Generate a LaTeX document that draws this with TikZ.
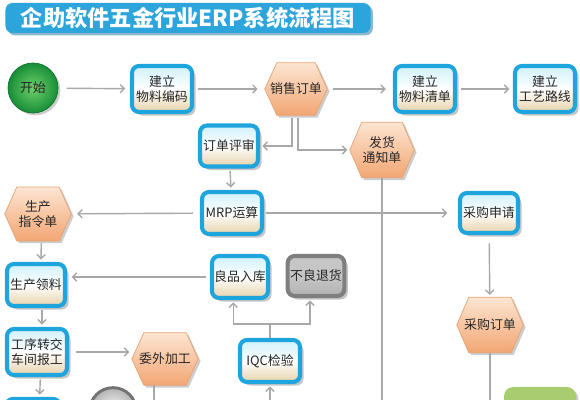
\documentclass[tikz,border=0pt]{standalone}
\usepackage{fontspec}
\newfontfamily\cjk{Noto Sans CJK SC}
\usetikzlibrary{shadows,arrows.meta,backgrounds}

\definecolor{boxblue}{HTML}{1EA5DD}
\definecolor{titleblue}{HTML}{2CA4DC}
\definecolor{titleshade}{HTML}{1C6F9A}
\definecolor{cyantop}{HTML}{CFF1FA}
\definecolor{beigebot}{HTML}{E6D2AA}
\definecolor{hextop}{HTML}{FCE5D2}
\definecolor{hexbot}{HTML}{F2A673}
\definecolor{hexline}{HTML}{E9A272}
\definecolor{linegray}{HTML}{A8A8A8}
\definecolor{badgray}{HTML}{7F7F7F}
\definecolor{badfill}{HTML}{C6C6C6}
\definecolor{startdark}{HTML}{178E38}
\definecolor{startlight}{HTML}{6FD06A}
\definecolor{endgreen}{HTML}{A9CD6E}

\begin{document}
\begin{tikzpicture}[x=0.03cm, y=-0.03cm, >={Straight Barb[length=3.5pt,width=7pt]},
    label/.style={font=\cjk\fontsize{11}{13}\selectfont, text=black!85, align=center},
    box/.style={label, rectangle, rounded corners=6pt, draw=boxblue, line width=3.5pt,
        top color=cyantop, bottom color=beigebot, middle color=white,
        minimum width=1.8cm, minimum height=1.26cm, inner sep=1pt,
        drop shadow={shadow xshift=3pt, shadow yshift=-3pt, fill=black!45}},
    tallbox/.style={box, minimum height=1.38cm},
    hexa/.style={label, rectangle, minimum width=1.95cm, minimum height=1.6cm, inner sep=0pt},
    hexfill/.style={draw=hexline, line width=0.6pt, top color=hextop, bottom color=hexbot,
        drop shadow={shadow xshift=2pt, shadow yshift=-2pt, fill=black!40}},
    badbox/.style={box, draw=badgray, top color=badfill, bottom color=badfill!90!black, middle color=badfill},
    startcirc/.style={label, circle, minimum size=1.5cm, draw=startdark!80!black, line width=0.6pt,
        inner color=startlight, outer color=startdark,
        drop shadow={shadow xshift=2pt, shadow yshift=-2pt, fill=black!40}},
    scrapcirc/.style={label, circle, minimum size=1.4cm, draw=black!55, line width=2.5pt,
        inner color=white, outer color=black!30},
    donebox/.style={rectangle, rounded corners=8pt, fill=endgreen, minimum width=2.16cm, minimum height=1.5cm,
        drop shadow={shadow xshift=2pt, shadow yshift=-2pt, fill=black!40}},
    titlebar/.style={rectangle, rounded corners=6pt, fill=titleblue, minimum width=10.95cm, minimum height=0.9cm,
        text=white, font=\cjk\bfseries\fontsize{19}{19}\selectfont,
        drop shadow={shadow xshift=2pt, shadow yshift=-2pt, fill=titleshade}},
    link/.style={draw=linegray, line width=1.2pt}]

  \useasboundingbox (0,0) rectangle (580,400);
  \clip (0,0) rectangle (580,400);

  % title
  \node[titlebar] (title) at (188,18) {企助软件五金行业ERP系统流程图};

  % top row
  \node[startcirc] (start) at (33,88) {开始};
  \node[tallbox] (code) at (162,89) {建立\\物料编码};
  \node[hexa, minimum width=1.86cm, minimum height=1.56cm] (sale) at (296,89) {销售订单};
  \node[tallbox] (bom) at (425,89) {建立\\物料清单};
  \node[tallbox] (route) at (545,89) {建立\\工艺路线};

  % order handling
  \node[box, minimum width=1.74cm, minimum height=1.23cm] (review) at (229,146) {订单评审};
  \node[hexa, minimum width=1.92cm, minimum height=1.65cm] (ship) at (382,150) {发货\\通知单};
  \node[box] (mrp) at (232,213) {MRP运算};
  \node[hexa, minimum width=1.98cm] (prodorder) at (38,214) {生产\\指令单};
  \node[box, minimum width=1.74cm, minimum height=1.2cm] (purreq) at (489,213) {采购申请};
  \node[hexa, minimum width=1.98cm, minimum height=1.65cm] (purorder) at (490,325) {采购订单};

  % production
  \node[box, minimum width=1.74cm] (pick) at (36,285) {生产领料};
  \node[box, minimum width=1.68cm] (good) at (240,277) {良品入库};
  \node[badbox, minimum width=1.7cm, minimum height=1.2cm] (bad) at (316,276) {不良退货};
  \node[box] (iqc) at (270,361) {IQC检验};
  \node[tallbox] (process) at (37,352) {工序转交\\车间报工};
  \node[hexa, minimum width=1.98cm, minimum height=1.56cm] (outsrc) at (165,359) {委外加工};

  % hexagon outlines behind the labels
  \begin{scope}[on background layer]
    \foreach \hx in {sale,ship,prodorder,purorder,outsrc}
      \path[hexfill] (\hx.west) -- ([xshift=0.36cm]\hx.north west) -- ([xshift=-0.36cm]\hx.north east)
        -- (\hx.east) -- ([xshift=-0.36cm]\hx.south east) -- ([xshift=0.36cm]\hx.south west) -- cycle;
  \end{scope}

  % cut off at the bottom edge
  \node[box, minimum width=1.62cm] (nextstep) at (33,420) {};
  \node[scrapcirc] (scrap) at (113,411) {铸件};
  \node[donebox] (finish) at (540,412) {};
  \coordinate (shipend) at (380,410);
  \coordinate (poend) at (490,410);
  \coordinate (outend) at (154,410);
  \coordinate (iqcin) at (270,410);
  \coordinate (qsplit) at (270,324);

  % connectors
  \draw[link, ->, shorten <=7pt, shorten >=4pt] (start) -- (code);
  \draw[link, ->, shorten <=3pt, shorten >=6pt] (code) -- (sale);
  \draw[link, ->, shorten <=5pt, shorten >=6pt] (sale) -- (bom);
  \draw[link, ->, shorten <=3pt, shorten >=3pt] (bom) -- (route);
  \draw[link, ->, shorten <=2pt, shorten >=2pt] ([xshift=-0.12cm]sale.south) |- (review.east);
  \draw[link, ->, shorten <=2pt, shorten >=2pt] ([xshift=0.06cm]sale.south) |- (ship.west);
  \draw[link, ->, shorten <=2pt, shorten >=2pt] (review) -- (mrp);
  \draw[link, ->, shorten <=6pt, shorten >=5pt] (mrp) -- (prodorder);
  \draw[link, ->, shorten <=2pt, shorten >=9pt] (mrp) -- (purreq);
  \draw[link] (ship.south) -- (ship.south |- shipend);
  \draw[link, ->, shorten <=7pt, shorten >=2pt] (purreq) -- (purorder);
  \draw[link] (purorder.south) -- (purorder.south |- poend);
  \draw[link, ->, shorten <=2pt, shorten >=2pt] ([xshift=0.1cm]prodorder.south) -- ([xshift=0.15cm]pick.north);
  \draw[link, ->, shorten <=3pt, shorten >=4pt] (good.west) -- (good.west -| pick.east);
  \draw[link, ->, shorten <=2pt, shorten >=2pt] ([xshift=0.18cm]pick.south) -- ([xshift=0.15cm]process.north);
  \draw[link, ->, shorten <=6pt, shorten >=2pt] (process.east) -- (process.east -| outsrc.west);
  \draw[link] (outsrc.south -| outend) -- (outend);
  \draw[link] (iqc.north) -- (qsplit);
  \draw[link, ->, shorten >=2pt] (qsplit) -| ([xshift=-0.2cm]good.south);
  \draw[link, ->, shorten >=2pt] (qsplit) -| ([xshift=-0.18cm]bad.south);
  \draw[link, ->, shorten >=2pt] (iqcin) -- (iqc.south);
  \draw[link, ->, shorten <=2pt, shorten >=2pt] ([xshift=0.1cm]process.south) -- ([xshift=0.2cm]nextstep.north);
\end{tikzpicture}
\end{document}
